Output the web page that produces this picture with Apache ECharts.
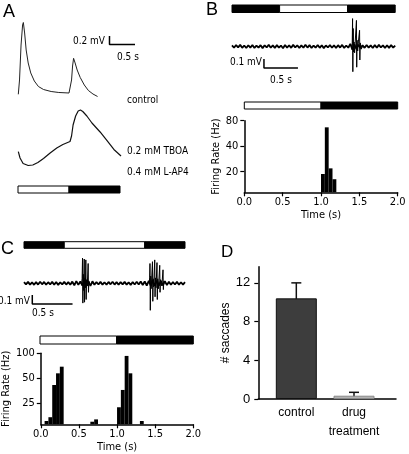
<!DOCTYPE html>
<html><head><meta charset="utf-8">
<script src="https://cdn.jsdelivr.net/npm/echarts@6/dist/echarts.min.js"></script>
<style>html,body{margin:0;padding:0;background:#fff}#c{width:409px;height:454px}</style>
</head><body><div id="c"></div>
<script>
// ---------------- DATA ----------------
// Panel A: intracellular traces (time s, mV relative to baseline)
const aControlT = [0.006,0.03,0.06,0.09,0.105,0.13,0.16,0.20,0.25,0.32,0.40,0.50,0.65,0.80,1.00,1.03,1.05,1.07,1.09,1.12,1.16,1.22,1.30,1.38,1.47,1.56];
const aControlV = [-0.031,0.306,1.129,1.60,1.659,1.412,1.012,0.706,0.471,0.282,0.153,0.082,0.035,0.012,0,0,0.306,0.635,0.816,0.706,0.541,0.365,0.188,0.059,-0.024,-0.082];
const aDrugT = [0.006,0.04,0.10,0.20,0.29,0.39,0.50,0.63,0.76,0.88,1.02,1.05,1.08,1.13,1.18,1.225,1.27,1.35,1.45,1.61,1.75,1.88,2.02];
const aDrugV = [0,-0.148,-0.278,-0.325,-0.313,-0.254,-0.16,-0.031,0.087,0.169,0.24,0.369,0.628,0.84,0.958,0.981,0.946,0.84,0.675,0.464,0.252,0.052,-0.101];
const aLabels = ['control','0.2 mM TBOA','0.4 mM L-AP4'];
// stimulus segments: [start s, end s, light on (1) / off (0)]
const aStim = [[0,1,1],[1,2,0]];
const bTopStim = [[0,0.7,0],[0.7,1.7,1],[1.7,2.4,0]];
const bHistStim = [[0,1,1],[1,2,0]];
const cTopStim = [[0,0.5,0],[0.5,1.5,1],[1.5,2,0]];
const cHistStim = [[0,1,1],[1,2,0]];
// scale bars: [time s, mV]
const aScale = [0.5, 0.2];
const bScale = [0.5, 0.1];
const cScale = [0.5, 0.1];

// Panel B extracellular trace, sampled every 0.03 s (mV)
const bDt = 0.03;
const bNoise = [0.012,-0.014,0.016,-0.010,0.018,-0.015,0.011,-0.017,0.014,-0.012,
0.017,-0.016,0.010,-0.013,0.015,-0.018,0.013,-0.011,0.019,-0.014,
0.012,-0.016,0.015,-0.012,0.011,-0.019,0.016,-0.013,0.014,-0.015,
0.018,-0.011,0.013,-0.017,0.012,-0.014,0.020,-0.012,0.015,-0.016,
0.011,-0.013,0.017,-0.015,0.014,-0.018,0.012,-0.011,0.016,-0.014,
0.013,-0.017,0.015,-0.012,0.018,-0.016,0.011,-0.014,0.030,-0.035,
0.025,-0.030,0.020,-0.016,0.014,-0.015,0.017,-0.012,0.013,-0.016,
0.015,-0.013,0.018,-0.011,0.012,-0.017,0.014,-0.015,0.016,-0.012,0.011];
const bBurst = [[1.760,0],[1.768,0.03],[1.773,0.31],[1.777,-0.28],[1.782,0.20],[1.787,-0.06],[1.795,0.05],[1.803,-0.07],[1.812,0.05],[1.822,0.03],[1.830,0.29],[1.834,-0.23],[1.839,0.07],[1.848,-0.05],[1.860,0.06],[1.876,0.18],[1.880,-0.15],[1.886,0.04],[1.900,-0.03],[1.920,0]];
// Panel B histogram (bin start s, Hz)
const histBinWidth = 0.05;
const bBinStart = [1.00,1.05,1.10,1.15];
const bRate = [18.8,66.8,21.9,16.3];
const bRateTicks = [20,40,80];

// Panel C extracellular trace, sampled every 0.025 s (mV)
const cDt = 0.025;
const cNoise = [0.014,-0.012,0.016,-0.015,0.011,-0.017,0.013,-0.014,0.018,-0.011,
0.015,-0.016,0.012,-0.013,0.017,-0.015,0.014,-0.018,0.011,-0.012,
0.016,-0.014,0.013,-0.017,0.019,-0.022,0.024,-0.018,0.021,-0.025,
0.030,-0.028,0.026,-0.030,0.022,-0.016,0.014,-0.013,0.017,-0.015,
0.012,-0.016,0.015,-0.011,0.018,-0.014,0.013,-0.017,0.014,-0.012,
0.016,-0.015,0.011,-0.018,0.015,-0.013,0.017,-0.014,0.020,-0.019,
0.022,-0.026,0.028,-0.030,0.032,-0.027,0.030,-0.025,0.026,-0.022,
0.024,-0.020,0.018,-0.016,0.014,-0.013,0.017,-0.015,0.012,-0.014,0.013];
const cBurst1 = [[0.715,0],[0.722,0.05],[0.727,0.28],[0.731,-0.22],[0.736,0.10],[0.742,-0.08],[0.748,0.27],[0.752,-0.21],[0.757,0.06],[0.763,-0.05],[0.768,0.26],[0.772,-0.18],[0.777,0.04],[0.786,-0.03],[0.797,0.22],[0.801,-0.10],[0.806,0.02],[0.815,0]];
const cBurst2 = [[1.555,0],[1.561,0.06],[1.565,0.22],[1.569,-0.30],[1.574,0.08],[1.580,-0.06],[1.596,0.24],[1.600,-0.20],[1.605,0.05],[1.611,-0.04],[1.624,0.26],[1.628,-0.15],[1.633,0.06],[1.640,-0.05],[1.652,0.23],[1.656,-0.18],[1.661,0.05],[1.670,-0.06],[1.686,0.20],[1.690,-0.10],[1.696,0.04],[1.712,-0.03],[1.727,0.15],[1.731,-0.07],[1.737,0.02],[1.750,0]];
const cBinStart = [0.05,0.10,0.15,0.20,0.25,0.65,0.70,1.00,1.05,1.10,1.15,1.30];
const cRate = [15.3,17.0,41.5,57.4,69.0,15.0,16.0,22.4,36.2,93.0,57.4,15.3];
const cRateTicks = [25,50,100];

// Panel D
const dCategories = ['control','drug\ntreatment'];
const dMean = [10.4,0.34];
const dErr = [1.6,0.35];
const dTicks = [0,4,8,12];

// ---------------- BUILD ----------------
const NARROW = "'Liberation Sans Narrow','Arial Narrow','DejaVu Sans Condensed',sans-serif";
const ARIAL = "'Liberation Sans',Arial,Helvetica,sans-serif";

const grids = [], xAxes = [], yAxes = [], series = [];
function addGrid(g, xa, ya) {
  const i = grids.length;
  grids.push(Object.assign({containLabel:false}, g));
  xAxes.push(Object.assign({gridIndex:i, type:'value', show:false, splitLine:{show:false}}, xa));
  yAxes.push(Object.assign({gridIndex:i, type:'value', show:false, splitLine:{show:false}}, ya));
  return i;
}
function line(gi, data, color, width) {
  series.push({type:'line', xAxisIndex:gi, yAxisIndex:gi, data, symbol:'none', silent:true,
    lineStyle:{color, width}, animation:false});
}
function stim(gi, segs) {
  series.push({type:'custom', xAxisIndex:gi, yAxisIndex:gi, data:segs, silent:true,
    renderItem(p, api) {
      const a = api.coord([api.value(0), 1]), b = api.coord([api.value(1), 0]);
      return {type:'rect', shape:{x:a[0], y:a[1], width:b[0]-a[0], height:b[1]-a[1]},
        style:{fill: api.value(2) ? '#fff' : '#000', stroke:'#000', lineWidth:1}};
    }});
}
function scaleBar(gi, t0, v0, sc) {
  line(gi, [[t0, v0 + sc[1]], [t0, v0], [t0 + sc[0], v0]], '#000', 1.5);
}
function hist(gi, starts, rates, yMin) {
  series.push({type:'custom', xAxisIndex:gi, yAxisIndex:gi, silent:true,
    data: starts.map((s, i) => [s, Math.log2(rates[i])]),
    renderItem(p, api) {
      const s = api.value(0);
      const a = api.coord([s, api.value(1)]), b = api.coord([s + histBinWidth, yMin]);
      return {type:'rect', shape:{x:a[0], y:a[1], width:b[0]-a[0], height:b[1]-a[1]}, style:{fill:'#000'}};
    }});
}
function sampled(noise, dt) { return noise.map((v, i) => [i * dt, v]); }

const axisLineStyle = {color:'#000', width:1.5};
function histAxes(ticks, yMin, yMax) {
  const tv = ticks.map(v => Math.log2(v));
  return [{
    type:'value', show:true, min:0, max:2, interval:0.5,
    axisLine:{show:true, lineStyle:axisLineStyle},
    axisTick:{show:true, length:4, lineStyle:{color:'#000', width:1.2}},
    axisLabel:{color:'#000', fontFamily:NARROW, fontSize:11, margin:4, formatter:v => v.toFixed(1)},
    splitLine:{show:false},
    name:'Time (s)', nameLocation:'middle', nameGap:17,
    nameTextStyle:{color:'#000', fontFamily:NARROW, fontSize:11}
  }, {
    type:'value', show:true, min:yMin, max:yMax,
    axisLine:{show:true, lineStyle:axisLineStyle},
    axisTick:{show:true, length:4, customValues:tv, lineStyle:{color:'#000', width:1.2}},
    axisLabel:{color:'#000', fontFamily:NARROW, fontSize:11, margin:6, customValues:tv,
      formatter:v => String(Math.round(Math.pow(2, v)))},
    splitLine:{show:false},
    name:'Firing Rate (Hz)', nameLocation:'middle', nameRotate:90, nameGap:20,
    nameTextStyle:{color:'#000', fontFamily:NARROW, fontSize:11}
  }];
}

// Panel A
const gA1 = addGrid({left:18, top:12.25, width:122.4, height:97.75}, {min:0, max:2.4}, {min:-0.4, max:1.9});
line(gA1, aControlT.map((t, i) => [t, aControlV[i]]), '#222', 1);
scaleBar(gA1, 1.794, 1.141, aScale);
const gA2 = addGrid({left:18, top:100.7, width:122.4, height:72.25}, {min:0, max:2.4}, {min:-0.5, max:1.2});
line(gA2, aDrugT.map((t, i) => [t, aDrugV[i]]), '#111', 1.2);
const gA3 = addGrid({left:18, top:186, width:122.4, height:7}, {min:0, max:2.4}, {min:0, max:1});
stim(gA3, aStim);

// Panel B
const gB1 = addGrid({left:232, top:10.5, width:163.2, height:72}, {min:0, max:2.4}, {min:-0.4, max:0.4});
line(gB1, sampled(bNoise, bDt), '#000', 1.8);
line(gB1, bBurst, '#000', 1);
scaleBar(gB1, 0.47, -0.239, bScale);
const gB2 = addGrid({left:232, top:5, width:163.2, height:7.5}, {min:0, max:2.4}, {min:0, max:1});
stim(gB2, bTopStim);
const gB3 = addGrid({left:244.3, top:102, width:153.4, height:7}, {min:0, max:2}, {min:0, max:1});
stim(gB3, bHistStim);
const bYMin = Math.log2(80) - 71.6 / 25.5, bYMax = Math.log2(80);
const bAx = histAxes(bRateTicks, bYMin, bYMax);
const gB4 = addGrid({left:244.3, top:120.7, width:153.4, height:71.6}, bAx[0], bAx[1]);
hist(gB4, bBinStart, bRate, bYMin);

// Panel C
const gC1 = addGrid({left:24, top:247.3, width:161, height:72}, {min:0, max:2}, {min:-0.4, max:0.4});
line(gC1, sampled(cNoise, cDt), '#000', 1.8);
line(gC1, cBurst1, '#000', 1);
line(gC1, cBurst2, '#000', 1);
scaleBar(gC1, 0.103, -0.23, cScale);
const gC2 = addGrid({left:24, top:241.7, width:161, height:6.6}, {min:0, max:2}, {min:0, max:1});
stim(gC2, cTopStim);
const gC3 = addGrid({left:40, top:336, width:153.3, height:8}, {min:0, max:2}, {min:0, max:1});
stim(gC3, cHistStim);
const cYMin = Math.log2(100) - 71 / 25, cYMax = Math.log2(100);
const cAx = histAxes(cRateTicks, cYMin, cYMax);
const gC4 = addGrid({left:40, top:353.3, width:153.3, height:71}, cAx[0], cAx[1]);
hist(gC4, cBinStart, cRate, cYMin);

// Panel D
const gD = addGrid({left:258.3, top:266.7, width:137.7, height:132.3}, {
  show:true, min:0.341, max:2.728,
  axisLine:{show:true, lineStyle:axisLineStyle}, axisTick:{show:false},
  axisLabel:{color:'#000', fontFamily:ARIAL, fontSize:12, margin:4, lineHeight:19,
    customValues:dCategories.map((c, i) => i + 1), formatter:v => dCategories[Math.round(v) - 1] || ''}
}, {
  show:true, min:0, max:13.67,
  axisLine:{show:true, lineStyle:axisLineStyle},
  axisTick:{show:true, length:4, customValues:dTicks, lineStyle:{color:'#000', width:1.2}},
  axisLabel:{color:'#000', fontFamily:ARIAL, fontSize:13, margin:8, customValues:dTicks},
  name:'# saccades', nameLocation:'middle', nameRotate:90, nameGap:24,
  nameTextStyle:{color:'#000', fontFamily:ARIAL, fontSize:12}
});
const dFill = ['#3d3d3d', '#b3b3b3'], dBorder = ['#111', '#888'];
series.push({type:'bar', xAxisIndex:gD, yAxisIndex:gD, barWidth:41, silent:true,
  data: dMean.map((m, i) => ({value:[i + 1, m], itemStyle:{color:dFill[i], borderColor:dBorder[i], borderWidth:1}}))});
series.push({type:'custom', xAxisIndex:gD, yAxisIndex:gD, silent:true,
  data: dMean.map((m, i) => [i + 1, m, dErr[i]]),
  renderItem(p, api) {
    const x = api.value(0), m = api.value(1), e = api.value(2);
    const lo = Math.max(m - e, 0);
    const t = api.coord([x, m + e]), b = api.coord([x, lo]);
    const st = {stroke:'#111', lineWidth:1.5};
    const ch = [
      {type:'line', shape:{x1:t[0], y1:t[1], x2:b[0], y2:b[1]}, style:st},
      {type:'line', shape:{x1:t[0]-5, y1:t[1], x2:t[0]+5, y2:t[1]}, style:st}
    ];
    if (lo > 0) ch.push({type:'line', shape:{x1:b[0]-5, y1:b[1], x2:b[0]+5, y2:b[1]}, style:st});
    return {type:'group', children:ch};
  }});

// Texts
function txt(text, x, y, size, family, align, valign) {
  return {type:'text', x, y, silent:true,
    style:{text, fontSize:size, fontFamily:family, fill:'#000', align:align || 'left', verticalAlign:valign || 'middle'}};
}
const graphic = [
  txt('A', 3, 12, 18, ARIAL),
  txt('B', 206, 10, 18, ARIAL),
  txt('C', 1, 249, 18, ARIAL),
  txt('D', 221, 252, 17, ARIAL),
  txt('0.2 mV', 105, 41, 10, NARROW, 'right'),
  txt('0.5 s', 117, 57, 10, NARROW),
  txt(aLabels[0], 127, 100, 10, NARROW),
  txt(aLabels[1], 127, 151.5, 10, NARROW),
  txt(aLabels[2], 127, 172.5, 10, NARROW),
  txt('0.1 mV', 262, 62, 10, NARROW, 'right'),
  txt('0.5 s', 270, 80, 10, NARROW),
  txt('0.1 mV', 30, 301.5, 10, NARROW, 'right'),
  txt('0.5 s', 32, 313, 10, NARROW)
];

const chart = echarts.init(document.getElementById('c'), null, {renderer:'canvas'});
chart.setOption({animation:false, backgroundColor:'#fff', grid:grids, xAxis:xAxes, yAxis:yAxes, series, graphic});
</script>
</body></html>
